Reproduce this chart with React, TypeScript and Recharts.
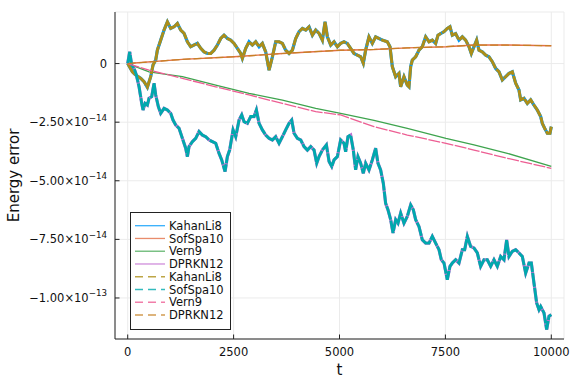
import React from 'react';
import { LineChart, Line, XAxis, YAxis, CartesianGrid, Label } from 'recharts';

// Energy error values are given in units of 1e-14
const SCALE = 1e-14;

// KahanLi8 (solid and dashed coincide)
const kahanLi8: [number, number][] = [
  [0,0],[110,-0.35],[189,-0.49],[307,-0.63],[386,-0.77],[464,-1.01],[543,-0.56],[598,-0.06],[661,0.15],[700,0.57],
  [779,1.0],[858,1.43],[937,1.78],[1015,1.5],[1094,1.57],[1173,1.71],[1251,1.43],[1330,1.29],[1409,0.93],[1487,0.72],
  [1566,0.79],[1645,0.86],[1724,0.65],[1802,0.5],[1881,0.43],[1960,0.43],[2038,0.57],[2117,0.79],[2196,1.07],[2274,1.21],
  [2353,1.07],[2432,1.0],[2511,0.86],[2589,0.65],[2668,0.43],[2707,0.22],[2786,0.65],[2865,0.93],[2943,0.79],[3022,0.93],
  [3101,0.72],[3179,0.86],[3258,0.5],[3337,-0.28],[3416,0.29],[3494,0.93],[3573,0.93],[3652,0.86],[3730,0.57],[3809,0.43],
  [3888,0.57],[3966,1.07],[4045,1.36],[4124,1.5],[4203,1.43],[4281,1.57],[4360,1.21],[4439,1.43],[4517,1.29],[4596,1.0],
  [4659,1.78],[4714,1.14],[4793,0.79],[4871,0.93],[4950,0.72],[5027,0.86],[5106,0.93],[5184,0.86],[5263,0.65],[5342,0.43],
  [5420,0.36],[5499,0.29],[5562,0.01],[5617,0.57],[5696,1.14],[5775,0.86],[5853,1.14],[5932,1.07],[6011,1.0],[6129,0.93],
  [6192,0.72],[6247,-0.13],[6326,-0.56],[6404,-0.42],[6444,-0.99],[6522,-0.56],[6601,-0.92],[6640,-0.99],[6680,-0.13],[6719,0.15],
  [6798,0.29],[6876,0.57],[6955,0.72],[7034,1.14],[7113,0.93],[7191,1.0],[7270,0.86],[7325,1.21],[7388,1.28],[7467,1.36],
  [7545,1.5],[7608,1.57],[7663,1.21],[7742,1.28],[7821,1.0],[7900,1.14],[7978,1.0],[8057,0.72],[8112,0.43],[8175,0.72],
  [8238,1.0],[8293,0.57],[8372,0.5],[8450,0.36],[8529,0.29],[8608,0.08],[8687,-0.21],[8765,-0.35],[8844,-0.7],[8923,-0.56],
  [9001,-0.42],[9080,-0.35],[9159,-0.84],[9237,-1.13],[9277,-1.55],[9356,-1.48],[9434,-1.7],[9513,-1.55],[9591,-1.77],[9670,-1.98],
  [9749,-2.26],[9788,-2.55],[9843,-2.76],[9906,-2.97],[9969,-2.97],[10000,-2.69],
];

// SofSpa10 dashed (DPRKN12 solid lies underneath)
const sofSpa10Dash: [number, number][] = [
  [0,0],[47,0.5],[94,-0.06],[150,-0.21],[205,-0.49],[268,-0.99],[331,-1.7],[362,-1.98],[409,-1.7],[464,-1.77],
  [504,-1.48],[567,-1.41],[622,-0.84],[661,-1.34],[724,-1.84],[779,-2.12],[858,-1.91],[937,-1.98],[1015,-2.12],[1070,-2.41],
  [1133,-2.62],[1212,-2.76],[1291,-3.19],[1369,-3.61],[1409,-3.97],[1448,-3.54],[1527,-3.33],[1605,-3.19],[1684,-2.9],[1763,-3.05],
  [1842,-3.12],[1920,-3.26],[1999,-3.33],[2078,-3.4],[2156,-3.83],[2219,-4.11],[2298,-4.61],[2353,-3.97],[2408,-3.68],[2487,-2.83],
  [2550,-3.12],[2629,-2.41],[2692,-2.19],[2747,-2.48],[2825,-2.55],[2904,-2.26],[2983,-2.26],[3038,-1.98],[3101,-2.55],[3179,-2.83],
  [3258,-3.05],[3337,-3.19],[3416,-3.26],[3494,-3.12],[3573,-3.4],[3652,-3.12],[3730,-2.83],[3809,-2.55],[3872,-2.41],[3927,-2.97],
  [4006,-3.19],[4085,-3.26],[4163,-3.54],[4242,-3.69],[4321,-3.54],[4399,-3.69],[4462,-4.25],[4517,-3.97],[4596,-3.69],[4691,-3.47],
  [4754,-4.18],[4817,-4.39],[4871,-4.11],[4950,-3.97],[5027,-3.26],[5106,-3.4],[5145,-3.76],[5200,-3.12],[5263,-3.05],[5326,-3.69],
  [5381,-4.53],[5436,-3.97],[5499,-4.25],[5562,-4.68],[5617,-4.25],[5696,-4.54],[5775,-4.11],[5853,-3.61],[5908,-4.25],[5971,-4.54],
  [6034,-5.1],[6089,-5.96],[6145,-6.24],[6208,-6.66],[6263,-7.23],[6326,-6.66],[6381,-6.81],[6444,-6.38],[6522,-6.81],[6601,-6.52],
  [6680,-6.03],[6743,-6.24],[6798,-6.66],[6876,-6.95],[6955,-7.52],[7034,-7.66],[7113,-7.66],[7191,-7.37],[7270,-7.66],[7349,-7.94],
  [7404,-8.37],[7467,-8.51],[7545,-9.22],[7608,-8.65],[7663,-8.51],[7742,-8.37],[7821,-8.51],[7900,-7.94],[7955,-7.94],[8018,-7.37],
  [8096,-7.8],[8175,-7.87],[8254,-8.08],[8332,-8.65],[8411,-8.37],[8490,-8.37],[8569,-8.65],[8647,-8.37],[8726,-8.65],[8805,-8.23],
  [8883,-8.37],[8946,-7.52],[9001,-8.23],[9080,-8.01],[9159,-7.94],[9237,-8.08],[9316,-8.23],[9395,-8.94],[9474,-8.51],[9529,-8.51],
  [9591,-9.36],[9654,-10.21],[9710,-10.5],[9749,-10.36],[9828,-10.64],[9891,-11.35],[9946,-10.78],[10000,-10.71],
];

// SofSpa10 solid (DPRKN12 dashed lies on top)
const sofSpa10: [number, number][] = [
  [0,0],[1291,0.18],[2511,0.29],[3652,0.43],[5027,0.57],[5814,0.6],[6601,0.67],[7514,0.72],[8175,0.79],[8962,0.79],[10000,0.76],
];

// Vern9 solid
const vern9: [number, number][] = [
  [0,0],[504,-0.35],[1291,-0.56],[2078,-0.92],[2865,-1.27],[3652,-1.56],[4439,-1.91],[5027,-2.12],[5814,-2.42],[6601,-2.76],
  [7514,-3.19],[8175,-3.47],[8962,-3.83],[10000,-4.39],
];

// Vern9 dashed
const vern9Dash: [number, number][] = [
  [0,0],[504,-0.28],[1291,-0.63],[2078,-0.99],[2865,-1.34],[3652,-1.7],[4439,-2.05],[5027,-2.19],[5814,-2.69],[6601,-3.05],
  [7514,-3.4],[8175,-3.69],[8962,-4.04],[10000,-4.47],
];

const xTicks = [0, 2500, 5000, 7500, 10000];
const yTicks = [0, -2.5e-14, -5e-14, -7.5e-14, -1e-13];
const yTickMantissa = ['0', '\u22122.50\u00d710', '\u22125.00\u00d710', '\u22127.50\u00d710', '\u22121.00\u00d710'];
const yTickExponent = ['', '\u221214', '\u221214', '\u221214', '\u221213'];

const legendNames = ['KahanLi8', 'SofSpa10', 'Vern9', 'DPRKN12', 'KahanLi8', 'SofSpa10', 'Vern9', 'DPRKN12'];
const legendColors = ['#009AFA', '#E36F47', '#3EA44E', '#C371D2', '#AC8E18', '#00A9AD', '#ED5E93', '#C68225'];
const legendDashed = [false, false, false, false, true, true, true, true];

const toData = (pts: [number, number][]) => pts.map(([t, e]) => ({ t, e: e * SCALE }));

const FONT = 'DejaVu Sans, sans-serif';

const YTick = (props: any) => {
  const { x, y, payload } = props;
  const i = yTicks.findIndex((v) => Math.abs(v - payload.value) < 1e-18);
  return (
    <g>
      <line x1={x} x2={x + 4.5} y1={y} y2={y} stroke="#222" strokeWidth={1} />
      <text x={x - 8} y={y + 4} textAnchor="end" fontSize={11.5} fontFamily={FONT} fill="#111">
        {yTickMantissa[i]}
        {yTickExponent[i] ? (
          <tspan dy={-5.5} fontSize={8.7}>{yTickExponent[i]}</tspan>
        ) : null}
      </text>
    </g>
  );
};

const XTick = (props: any) => {
  const { x, y, payload } = props;
  return (
    <g>
      <line x1={x} x2={x} y1={y} y2={y - 4.5} stroke="#222" strokeWidth={1} />
      <text x={x} y={y + 17} textAnchor="middle" fontSize={11.5} fontFamily={FONT} fill="#111">
        {payload.value}
      </text>
    </g>
  );
};

const Legend8 = () => (
  <svg
    width={101}
    height={118}
    style={{ position: 'absolute', left: 130, top: 212 }}
  >
    <rect x={0.5} y={0.5} width={100} height={117} fill="#fff" stroke="#222" strokeWidth={1} />
    {legendNames.map((n, i) => {
      const yy = 13.7 + i * 12.76;
      return (
        <g key={i}>
          <line
            x1={5}
            x2={35}
            y1={yy}
            y2={yy}
            stroke={legendColors[i]}
            strokeOpacity={0.8}
            strokeWidth={1.3}
            strokeDasharray={legendDashed[i] ? '8 5' : undefined}
          />
          <text x={39} y={yy + 4.2} fontSize={11.5} fontFamily={FONT} fill="#111">
            {n}
          </text>
        </g>
      );
    })}
  </svg>
);

export default function App() {
  return (
    <div style={{ position: 'absolute', left: 0, top: 0, width: 576, height: 384, background: '#fff' }}>
      <LineChart width={576} height={384} margin={{ top: 12, right: 12, bottom: 0, left: 0 }}>
        <CartesianGrid stroke="#ebebeb" strokeWidth={1} />
        <XAxis
          dataKey="t"
          type="number"
          domain={[-300, 10300]}
          ticks={xTicks}
          allowDataOverflow
          height={45}
          tickSize={0}
          tickMargin={0}
          tick={<XTick />}
          axisLine={{ stroke: '#222', strokeWidth: 1 }}
          tickLine={false}
        >
          <Label
            content={() => (
              <text x={339.5} y={375} textAnchor="middle" fontSize={15} fontFamily={FONT} fill="#111">
                t
              </text>
            )}
          />
        </XAxis>
        <YAxis
          type="number"
          domain={[-11.75e-14, 2.2e-14]}
          ticks={yTicks}
          allowDataOverflow
          width={115}
          tickSize={0}
          tickMargin={0}
          tick={<YTick />}
          axisLine={{ stroke: '#222', strokeWidth: 1 }}
          tickLine={false}
        >
          <Label
            content={() => (
              <text
                x={14}
                y={175.5}
                transform="rotate(-90 14 175.5)"
                textAnchor="middle"
                dominantBaseline="middle"
                fontSize={15}
                fontFamily={FONT}
                fill="#111"
              >
                Energy error
              </text>
            )}
          />
        </YAxis>
        <Line data={toData(kahanLi8)} dataKey="e" name="KahanLi8" stroke="#009AFA" strokeWidth={3.2} dot={false} isAnimationActive={false} />
        <Line data={toData(sofSpa10)} dataKey="e" name="SofSpa10" stroke="#E36F47" strokeWidth={1.4} dot={false} isAnimationActive={false} />
        <Line data={toData(vern9)} dataKey="e" name="Vern9" stroke="#3EA44E" strokeWidth={1.3} dot={false} isAnimationActive={false} />
        <Line data={toData(sofSpa10Dash)} dataKey="e" name="DPRKN12" stroke="#C371D2" strokeWidth={3.2} dot={false} isAnimationActive={false} />
        <Line data={toData(kahanLi8)} dataKey="e" name="KahanLi8 dashed" stroke="#AC8E18" strokeWidth={2.9} strokeDasharray="14 1" dot={false} isAnimationActive={false} />
        <Line data={toData(sofSpa10Dash)} dataKey="e" name="SofSpa10 dashed" stroke="#00A9AD" strokeWidth={2.9} strokeDasharray="14 1" dot={false} isAnimationActive={false} />
        <Line data={toData(vern9Dash)} dataKey="e" name="Vern9 dashed" stroke="#ED5E93" strokeWidth={1.3} strokeDasharray="12 1.5" dot={false} isAnimationActive={false} />
        <Line data={toData(sofSpa10)} dataKey="e" name="DPRKN12 dashed" stroke="#C68225" strokeWidth={1.2} strokeDasharray="8 3" dot={false} isAnimationActive={false} />
      </LineChart>
      <Legend8 />
    </div>
  );
}
